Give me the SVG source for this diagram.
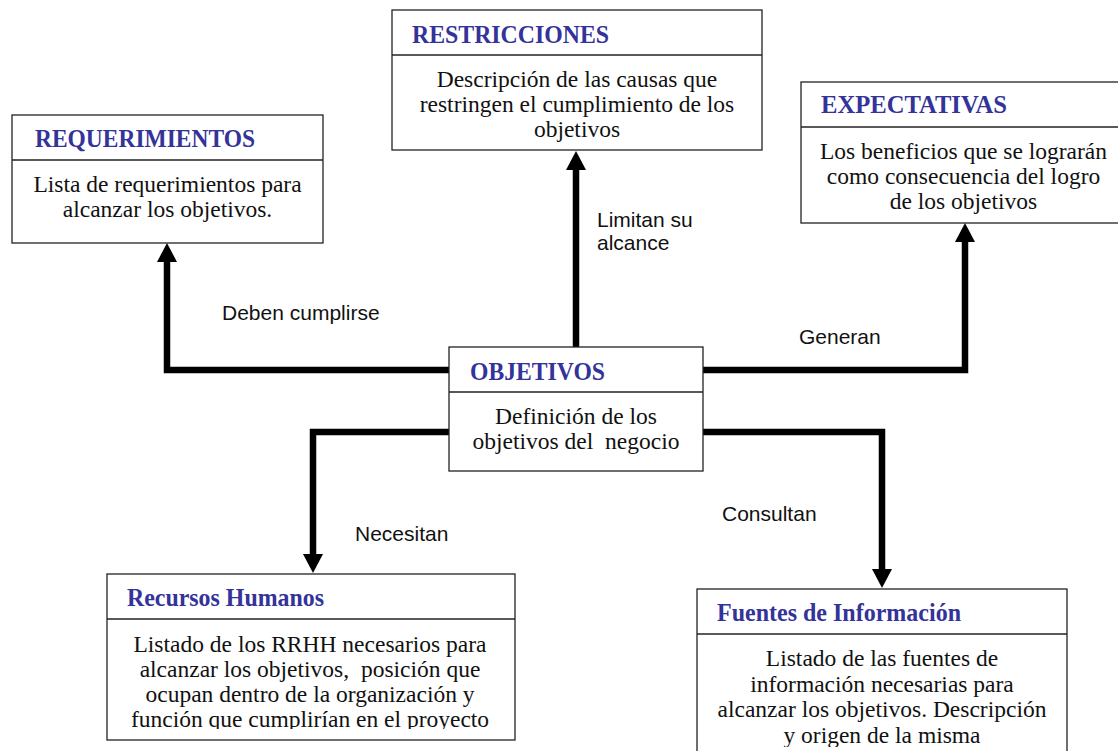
<svg xmlns="http://www.w3.org/2000/svg" width="1118" height="751" viewBox="0 0 1118 751">
  <style>
    .box { fill: #ffffff; stroke: #222222; stroke-width: 1.3; }
    .div { stroke: #222222; stroke-width: 1.3; }
    .title { font-family: "Liberation Serif", "Times New Roman", serif; font-weight: bold; font-size: 26px; fill: #333399; }
    .body { font-family: "Liberation Serif", "Times New Roman", serif; font-size: 23.5px; fill: #111111; text-anchor: middle; }
    .lbl { font-family: "Liberation Sans", Arial, sans-serif; font-size: 21px; fill: #111111; }
    .conn { fill: none; stroke: #000000; stroke-width: 6.5; stroke-linejoin: miter; }
  </style>
  <defs>
    <marker id="arrow" viewBox="0 0 19 20" refX="0" refY="10" markerWidth="19" markerHeight="20" markerUnits="userSpaceOnUse" orient="auto">
      <path d="M0,0 L19,10 L0,20 z" fill="#000000"/>
    </marker>
    <clipPath id="clipRH"><rect x="100" y="560" width="430" height="169"/></clipPath>
    <clipPath id="clipFI"><rect x="690" y="580" width="428" height="167"/></clipPath>
  </defs>

  <rect width="1118" height="751" fill="#ffffff"/>

  <!-- connectors from OBJETIVOS -->
  <g id="connectors">
    <path class="conn" d="M576,347 V170" marker-end="url(#arrow)"/>
    <path class="conn" d="M449,370 H167 V262" marker-end="url(#arrow)"/>
    <path class="conn" d="M703,370 H965 V242" marker-end="url(#arrow)"/>
    <path class="conn" d="M449,432 H313 V554" marker-end="url(#arrow)"/>
    <path class="conn" d="M703,432 H882 V569" marker-end="url(#arrow)"/>
    <text class="lbl" x="222" y="320">Deben cumplirse</text>
    <text class="lbl" x="597" y="227">Limitan su</text>
    <text class="lbl" x="597" y="250">alcance</text>
    <text class="lbl" x="799" y="344">Generan</text>
    <text class="lbl" x="355" y="541">Necesitan</text>
    <text class="lbl" x="722" y="521">Consultan</text>
  </g>

  <g id="restricciones">
    <rect class="box" x="392" y="10" width="370" height="140"/>
    <line class="div" x1="392" y1="55" x2="762" y2="55"/>
    <text class="title" x="412" y="43" textLength="197" lengthAdjust="spacingAndGlyphs">RESTRICCIONES</text>
    <text class="body" x="577" y="87">Descripción de las causas que</text>
    <text class="body" x="577" y="112">restringen el cumplimiento de los</text>
    <text class="body" x="577" y="137">objetivos</text>
  </g>

  <g id="requerimientos">
    <rect class="box" x="12" y="115" width="311" height="128"/>
    <line class="div" x1="12" y1="160" x2="323" y2="160"/>
    <text class="title" x="35" y="147" textLength="220" lengthAdjust="spacingAndGlyphs">REQUERIMIENTOS</text>
    <text class="body" x="167.5" y="192">Lista de requerimientos para</text>
    <text class="body" x="167.5" y="217">alcanzar los objetivos.</text>
  </g>

  <g id="expectativas">
    <rect class="box" x="801" y="82" width="330" height="141"/>
    <line class="div" x1="801" y1="127" x2="1131" y2="127"/>
    <text class="title" x="821" y="113" textLength="186" lengthAdjust="spacingAndGlyphs">EXPECTATIVAS</text>
    <text class="body" x="963.5" y="159">Los beneficios que se lograrán</text>
    <text class="body" x="963.5" y="184">como consecuencia del logro</text>
    <text class="body" x="963.5" y="209">de los objetivos</text>
  </g>

  <g id="objetivos">
    <rect class="box" x="449" y="347" width="254" height="124"/>
    <line class="div" x1="449" y1="392" x2="703" y2="392"/>
    <text class="title" x="470" y="380" textLength="135" lengthAdjust="spacingAndGlyphs">OBJETIVOS</text>
    <text class="body" x="576" y="424">Definición de los</text>
    <text class="body" x="576" y="449" xml:space="preserve">objetivos del  negocio</text>
  </g>

  <g id="recursos-humanos">
    <rect class="box" x="107" y="574" width="408" height="166"/>
    <line class="div" x1="107" y1="619" x2="515" y2="619"/>
    <text class="title" x="127" y="606" textLength="197" lengthAdjust="spacingAndGlyphs">Recursos Humanos</text>
    <g clip-path="url(#clipRH)">
      <text class="body" x="310" y="652">Listado de los RRHH necesarios para</text>
      <text class="body" x="310" y="677" xml:space="preserve">alcanzar los objetivos,  posición que</text>
      <text class="body" x="310" y="702">ocupan dentro de la organización y</text>
      <text class="body" x="310" y="727">función que cumplirían en el proyecto</text>
    </g>
  </g>

  <g id="fuentes-informacion">
    <rect class="box" x="697" y="589" width="370" height="180"/>
    <line class="div" x1="697" y1="634" x2="1067" y2="634"/>
    <text class="title" x="717" y="621" textLength="244" lengthAdjust="spacingAndGlyphs">Fuentes de Información</text>
    <g clip-path="url(#clipFI)">
      <text class="body" x="882" y="666">Listado de las fuentes de</text>
      <text class="body" x="882" y="692">información necesarias para</text>
      <text class="body" x="882" y="717">alcanzar los objetivos. Descripción</text>
      <text class="body" x="882" y="743">y origen de la misma</text>
    </g>
  </g>
</svg>
